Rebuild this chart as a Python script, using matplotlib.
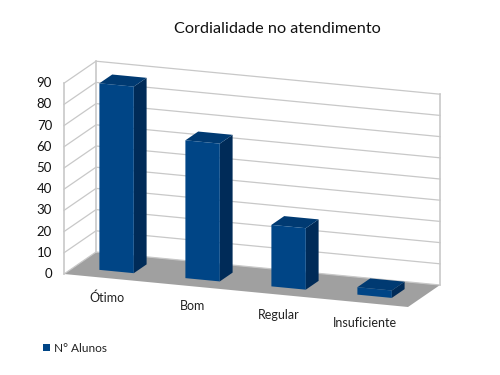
import matplotlib
matplotlib.use('Agg')
from matplotlib import pyplot as plt
from matplotlib.patches import Polygon

plt.rcParams['font.family'] = ['Lato', 'DejaVu Sans']

categories = ["Ótimo", "Bom", "Regular", "Insuficiente"]
values = [88, 65, 29, 3.5]
y_ticks = [0, 10, 20, 30, 40, 50, 60, 70, 80, 90]
title = "Cordialidade no atendimento"
series_name = "N° Alunos"

FRONT = "#004586"
SIDE = "#002b58"
TOP = "#003a72"
FLOOR = "#a0a0a0"
GRID = "#c8c8c8"


# oblique projection: u along the floor, d into the page, v is the value
def proj(u, d, v):
    return (64 + 344*u + 32*d, 274 + 33*u - 22*d - 2.12*v)


fig = plt.figure(figsize=(5, 3.75), dpi=100)
ax = fig.add_axes([0, 0, 1, 1])
ax.set_xlim(0, 500)
ax.set_ylim(375, 0)
ax.axis('off')

# floor
ax.add_patch(Polygon([proj(0, 0, 0), proj(1, 0, 0), proj(1, 1, 0), proj(0, 1, 0)],
                     closed=True, fc=FLOOR, ec='none', zorder=1))

# walls
for t in y_ticks:
    pts = [proj(0, 0, t), proj(0, 1, t), proj(1, 1, t)]
    ax.plot([p[0] for p in pts], [p[1] for p in pts], color=GRID, lw=0.9, zorder=2)
    lx, ly = proj(0, 0, t)
    ax.text(lx - 12, ly, str(t), ha='right', va='center', fontsize=9.5, color='#111111')

for (u, d) in [(0, 0), (0, 1), (1, 1)]:
    a, b = proj(u, d, 0), proj(u, d, y_ticks[-1])
    ax.plot([a[0], b[0]], [a[1], b[1]], color=GRID, lw=1.2, zorder=2)

# bars
for i, (name, val) in enumerate(zip(categories, values)):
    u0 = (i + 0.3) / 4
    u1 = (i + 0.7) / 4
    d0, d1 = 0.3, 0.7
    ax.add_patch(Polygon([proj(u1, d0, 0), proj(u1, d1, 0), proj(u1, d1, val), proj(u1, d0, val)],
                         closed=True, fc=SIDE, ec='none', zorder=3))
    ax.add_patch(Polygon([proj(u0, d0, val), proj(u1, d0, val), proj(u1, d1, val), proj(u0, d1, val)],
                         closed=True, fc=TOP, ec='none', zorder=3))
    ax.add_patch(Polygon([proj(u0, d0, 0), proj(u1, d0, 0), proj(u1, d0, val), proj(u0, d0, val)],
                         closed=True, fc=FRONT, ec='none', zorder=4))
    lx, ly = proj((i + 0.5) / 4, 0, 0)
    ax.text(lx, ly + 20, name, ha='center', va='center', fontsize=9, color='#222222')

ax.text(277, 29, title, ha='center', va='center', fontsize=11.7, color='#111111')

# legend
ax.add_patch(Polygon([(43, 344), (50, 344), (50, 351), (43, 351)], closed=True, fc=FRONT, ec='none'))
ax.text(54, 348, series_name, ha='left', va='center', fontsize=8.6, color='#222222')

fig.savefig("out.png", dpi=100)
plt.close()
